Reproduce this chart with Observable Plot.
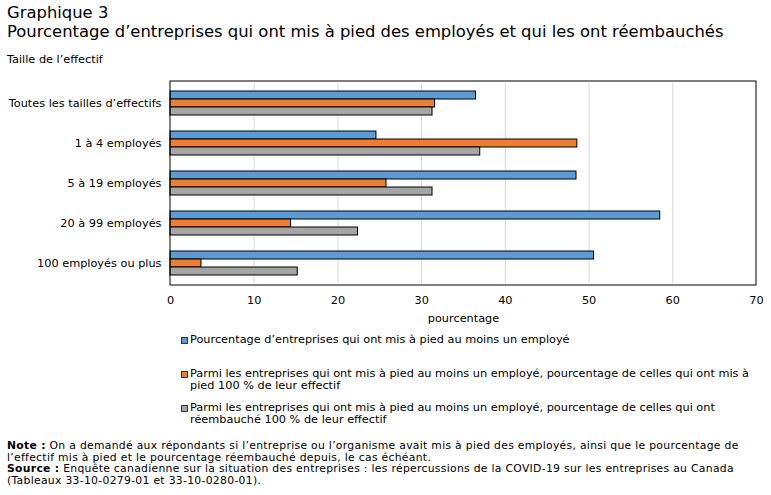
<!DOCTYPE html>
<html>
<head>
<meta charset="utf-8">
<script src="https://cdn.jsdelivr.net/npm/d3@7"></script>
<script src="https://cdn.jsdelivr.net/npm/@observablehq/plot@0.6"></script>
<style>
  html, body { margin: 0; padding: 0; background: #fff; }
  #wrap { position: relative; width: 771px; height: 495px; font-family: "DejaVu Sans", sans-serif; color: #000; overflow: hidden; }
  .abs { position: absolute; left: 7px; white-space: nowrap; }
  #title { top: 3px; font-size: 16.4px; line-height: 19px; }
  #sub { top: 52.5px; font-size: 11.3px; line-height: 13px; }
  #chart { position: absolute; left: 0; top: 70px; }
  #legend { position: absolute; left: 180px; top: 0; font-size: 11.3px; line-height: 12.7px; }
  .item { position: absolute; left: 0; white-space: nowrap; }
  .sw { position: absolute; left: 1px; top: 3.5px; width: 5px; height: 5px; border: 1px solid #333; }
  .txt { position: absolute; left: 10px; top: 0; }
  #notes { top: 440px; font-size: 10.8px; line-height: 11.5px; letter-spacing: 0.3px; }
</style>
</head>
<body>
<div id="wrap">
  <div id="title" class="abs">Graphique 3<br>Pourcentage d’entreprises qui ont mis à pied des employés et qui les ont réembauchés</div>
  <div id="sub" class="abs">Taille de l’effectif</div>
  <div id="chart"></div>
  <div id="legend"></div>
  <div id="notes" class="abs"><b>Note :</b> On a demandé aux répondants si l’entreprise ou l’organisme avait mis à pied des employés, ainsi que le pourcentage de<br>l’effectif mis à pied et le pourcentage réembauché depuis, le cas échéant.<br><b>Source :</b> Enquête canadienne sur la situation des entreprises : les répercussions de la COVID-19 sur les entreprises au Canada<br>(Tableaux 33-10-0279-01 et 33-10-0280-01).</div>
</div>
<script>
const categories = [
  "Toutes les tailles d’effectifs",
  "1 à 4 employés",
  "5 à 19 employés",
  "20 à 99 employés",
  "100 employés ou plus"
];
const seriesNames = [
  "Pourcentage d’entreprises qui ont mis à pied au moins un employé",
  "Parmi les entreprises qui ont mis à pied au moins un employé, pourcentage de celles qui ont mis à pied 100 % de leur effectif",
  "Parmi les entreprises qui ont mis à pied au moins un employé, pourcentage de celles qui ont réembauché 100 % de leur effectif"
];
const legendLines = [
  ["Pourcentage d’entreprises qui ont mis à pied au moins un employé"],
  ["Parmi les entreprises qui ont mis à pied au moins un employé, pourcentage de celles qui ont mis à", "pied 100 % de leur effectif"],
  ["Parmi les entreprises qui ont mis à pied au moins un employé, pourcentage de celles qui ont", "réembauché 100 % de leur effectif"]
];
const laidOffAny = [36.5, 24.6, 48.5, 58.5, 50.6];
const laidOffAll = [31.6, 48.6, 25.8, 14.4, 3.7];
const rehiredAll = [31.3, 37.0, 31.3, 22.4, 15.2];
const xTicks = [0, 10, 20, 30, 40, 50, 60, 70];
const gridTicks = [10, 20, 30, 40, 50, 60];
const colors = ["#5b9bd5", "#ed7d31", "#a5a5a5"];
const xLabel = "pourcentage";

const valuesBySeries = [laidOffAny, laidOffAll, rehiredAll];
const data = [];
categories.forEach((c, i) => {
  valuesBySeries.forEach((vals, s) => {
    data.push({cat: c, s: seriesNames[s], value: vals[i]});
  });
});

const chart = Plot.plot({
  width: 771,
  height: 260,
  marginLeft: 170,
  marginRight: 15,
  marginTop: 11,
  marginBottom: 45,
  style: {fontFamily: "DejaVu Sans, sans-serif", fontSize: "11.3px", color: "#000", background: "transparent"},
  x: {domain: [0, 70], ticks: xTicks, tickSize: 0, tickPadding: 12, label: xLabel, labelAnchor: "center", labelOffset: 38, labelArrow: "none"},
  y: {domain: seriesNames, axis: null, paddingInner: 0, paddingOuter: 0.95},
  fy: {domain: categories, axis: "left", paddingInner: 0, paddingOuter: 0, label: null, tickSize: 0, tickPadding: 9},
  color: {domain: seriesNames, range: colors},
  marks: [
    Plot.ruleX(gridTicks, {stroke: "#d9d9d9", strokeWidth: 1}),
    Plot.barX(data, {fy: "cat", y: "s", x: "value", fill: "s", stroke: "#000", strokeWidth: 1})
  ]
});
document.getElementById("chart").appendChild(chart);

// outer frame from the library's scales
const xs = chart.scale("x");
const fys = chart.scale("fy");
const svg = d3.select(chart);
const x0 = xs.apply(0), x1 = xs.apply(70);
const yr = fys.range;
svg.append("rect")
  .attr("x", x0).attr("y", Math.min(...yr))
  .attr("width", x1 - x0).attr("height", Math.abs(yr[1] - yr[0]))
  .attr("fill", "none").attr("stroke", "#000").attr("stroke-width", 1);

// legend
const legendTops = [333.7, 367.7, 401.6];
const legend = d3.select("#legend");
seriesNames.forEach((s, i) => {
  const it = legend.append("div").attr("class", "item").style("top", legendTops[i] + "px");
  it.append("div").attr("class", "sw").style("background", colors[i]);
  it.append("div").attr("class", "txt").html(legendLines[i].join("<br>"));
});
</script>
</body>
</html>
